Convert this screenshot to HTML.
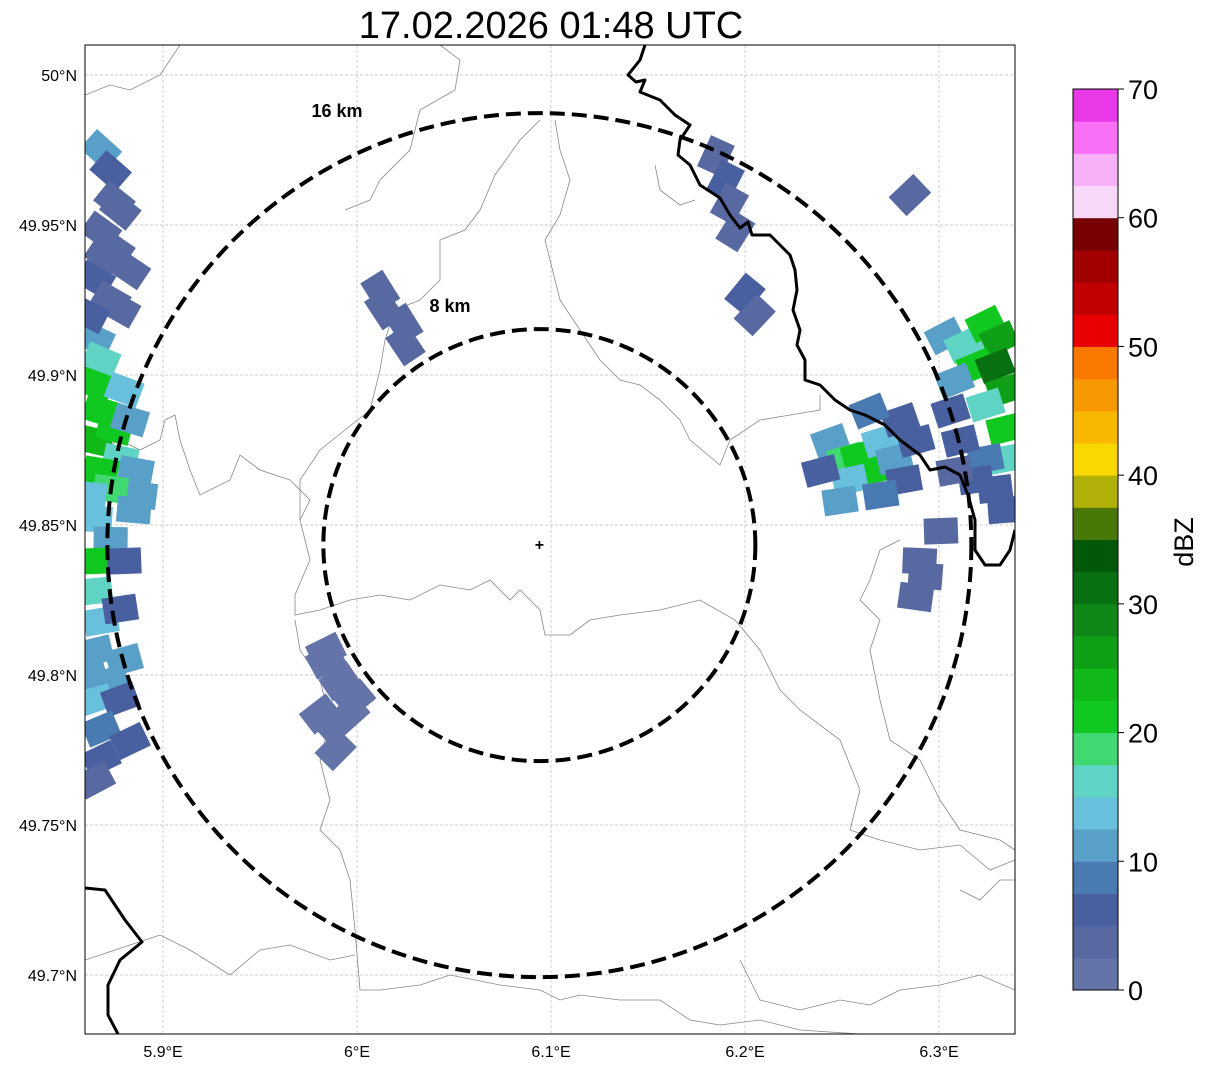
<!DOCTYPE html>
<html><head><meta charset="utf-8"><style>
html,body{margin:0;background:#fff;overflow:hidden;width:1207px;height:1069px}
svg{display:block}
svg text{font-family:"Liberation Sans","DejaVu Sans",sans-serif}
</style></head><body>
<svg id="chart" width="1207" height="1069" xmlns="http://www.w3.org/2000/svg">
<rect width="1207" height="1069" fill="#fff"/>
<text x="551" y="38" font-size="38" text-anchor="middle">17.02.2026 01:48 UTC</text>
<defs><clipPath id="mapclip"><rect x="85" y="45" width="930" height="989"/></clipPath></defs>
<g id="grid"></g>
<g clip-path="url(#mapclip)">
<g fill="none" stroke="#888" stroke-width="0.8">
<polyline points="85,95 110,85 130,90 160,75 180,45"/>
<polyline points="440,45 460,60 455,90 420,110 410,150 380,180 370,200 345,210"/>
<polyline points="540,120 520,140 495,175 480,210 465,230 440,240 440,280 420,300 395,310 385,340 380,370 370,410 345,430 320,450 300,480 300,520 310,560 295,595 295,615 320,610 350,600 380,595 410,600 440,585 470,590 490,580 510,600 520,590 540,610 545,635 570,635 590,620 620,615 660,610 700,600 735,620 760,650 780,690 800,710 840,740 860,790 850,830 880,840 920,850 960,845 990,870 1015,860"/>
<polyline points="555,120 560,150 570,180 560,215 545,240 555,280 560,300 580,330 600,360 620,380 640,385 660,400 680,420 690,440 720,465 730,440 760,420 790,415 820,410 820,395"/>
<polyline points="85,440 100,450 120,440 140,450 160,440 165,420 175,415 180,440 190,470 200,495 230,480 240,455 260,470 290,480 310,500 300,520"/>
<polyline points="295,620 300,650 320,680 330,720 320,760 330,800 320,830 340,850 350,880 355,930 360,990 380,990 420,985 450,975 500,985 540,990 560,1000 580,995 620,1000 660,1000 690,1020 720,1025 760,1020 800,1030 860,1034"/>
<polyline points="85,960 130,945 160,935 190,950 230,975 260,950 290,945 330,960 355,955"/>
<polyline points="740,960 760,1000 800,1010 840,1000 870,1005 900,990 940,985 980,975 1015,990"/>
<polyline points="900,540 880,550 870,580 860,600 880,620 870,650 880,700 890,740 920,760 940,800 960,830 1000,840 1015,850"/>
<polyline points="960,890 980,900 1000,880 1015,880"/>
<polyline points="655,165 660,190 680,205 695,200"/>
</g>
<g id="echoes"></g>
<g fill="none" stroke="#000" stroke-width="3" stroke-linejoin="round">
<polyline points="645,45 640,60 628,75 636,82 645,80 640,92 660,100 675,115 690,125 680,140 678,155 690,165 700,185 720,198 730,215 740,228 748,222 752,235 770,235 780,245 790,255 795,270 797,290 793,310 800,330 797,345 805,360 805,380 820,385 835,400 850,410 865,415 885,425 900,440 920,455 930,470 945,467 960,475 968,495 975,520 975,550 985,565 1000,565 1010,550 1015,530"/>
<polyline points="85,888 105,890 125,920 142,942 120,960 108,985 108,1015 118,1034"/>
</g>
<g id="rings"></g>
</g>
<rect x="85" y="45" width="930" height="989" fill="none" stroke="#000" stroke-width="1"/>
<g id="axes"></g>
<g id="cbar"></g>
<text transform="translate(1193,542) rotate(-90)" font-size="27" text-anchor="middle">dBZ</text>
</svg>
<script>
const lonTicks=[5.9,6.0,6.1,6.2,6.3];
const lonLabels=["5.9°E","6°E","6.1°E","6.2°E","6.3°E"];
const latTicks=[50.0,49.95,49.9,49.85,49.8,49.75,49.7];
const latLabels=["50°N","49.95°N","49.9°N","49.85°N","49.8°N","49.75°N","49.7°N"];
const cbarTicks=[0,10,20,30,40,50,60,70];
const cbarColors=["#6474a8","#5868a0","#4860a0","#4a7ab2","#58a0c8","#68c0dc","#60d4c4","#40d870","#10c820","#10b818","#10a018","#108818","#087010","#005808","#487808","#b0b008","#f8d800","#f8b800","#f89800","#f87800","#e80000","#c00000","#a00000","#780000","#f8d8f8","#f8b0f8","#f870f8","#e838e8"];
const centerLon=6.0940, centerLat=49.8433;
const ringKm=[8,16];
const ringLabels=["8 km","16 km"];
const cellLon=[5.868,5.873,5.875,5.868,5.875,5.865,5.873,5.878,5.865,5.868,5.865,5.868,5.865,5.875,5.878,5.886,5.883,5.888,5.868,5.873,5.865,5.873,5.865,5.880,5.865,5.868,5.878,5.865,5.873,5.865,5.878,5.868,5.883,5.868,5.865,5.878,5.883,5.870,5.880,5.885,5.862,5.862,5.862,5.880,
6.012,6.014,6.024,6.025,
5.984,5.991,5.999,5.981,5.989,5.989,5.996,5.984,
6.185,6.190,6.192,6.195,6.200,6.205,6.285,
6.244,6.252,6.259,6.264,6.254,6.270,6.280,6.277,6.282,6.249,6.239,6.264,6.288,6.270,
6.303,6.313,6.324,6.331,6.319,6.329,6.334,6.308,6.306,6.324,6.334,6.334,6.324,6.311,6.319,6.329,6.334,6.308,6.301,6.290,6.293,6.288];
const cellLat=[49.975,49.968,49.958,49.948,49.942,49.932,49.925,49.922,49.912,49.905,49.897,49.888,49.878,49.882,49.872,49.868,49.885,49.860,49.868,49.862,49.852,49.845,49.838,49.838,49.828,49.818,49.822,49.808,49.798,49.792,49.792,49.782,49.778,49.772,49.765,49.955,49.935,49.940,49.895,49.855,49.920,49.860,49.800,49.805,
49.928,49.922,49.917,49.910,
49.805,49.798,49.792,49.787,49.783,49.775,49.787,49.808,
49.973,49.965,49.957,49.948,49.927,49.920,49.960,
49.878,49.872,49.873,49.868,49.865,49.878,49.885,49.872,49.865,49.858,49.868,49.888,49.878,49.860,
49.913,49.910,49.917,49.912,49.903,49.903,49.895,49.898,49.888,49.890,49.882,49.872,49.872,49.878,49.865,49.862,49.855,49.868,49.848,49.838,49.833,49.826];
const cellDbz=[12,5,3,3,3,5,3,3,12,17,20,22,24,20,15,12,12,12,20,18,14,10,20,7,17,13,5,12,10,13,7,9,5,5,3,3,3,3,14,12,5,14,12,10,
3,3,3,3,
1,1,1,1,1,1,1,1,
4,5,4,4,5,3,3,
10,18,22,20,13,14,5,10,5,12,5,8,5,8,
12,17,20,25,22,30,27,12,6,17,22,15,8,5,5,7,5,4,3,3,4,3];

const NS="http://www.w3.org/2000/svg";
const X=lon=>163+1940*(lon-5.9);
const Y=lat=>75+3000*(50-lat);
function mk(tag,attrs,parent){const e=document.createElementNS(NS,tag);for(const k in attrs)e.setAttribute(k,attrs[k]);parent.appendChild(e);return e;}
const grid=document.getElementById('grid'),axes=document.getElementById('axes');
lonTicks.forEach((v,i)=>{const x=X(v);
 const l=mk('line',{x1:x,x2:x,y1:45,y2:1034,stroke:'#bbb','stroke-width':0.7,'stroke-dasharray':'3,2'},grid);
 
 const t=mk('text',{x:x,y:1057,'font-size':16,'text-anchor':'middle'},axes);t.textContent=lonLabels[i];
 });
latTicks.forEach((v,i)=>{const y=Y(v);
 const l=mk('line',{x1:85,x2:1015,y1:y,y2:y,stroke:'#bbb','stroke-width':0.7,'stroke-dasharray':'3,2'},grid);
 
 const t=mk('text',{x:77,y:y+6,'font-size':16,'text-anchor':'end'},axes);t.textContent=latLabels[i];
 });
const echoes=document.getElementById('echoes');
const cx=X(centerLon),cy=Y(centerLat);
for(let i=0;i<cellLon.length;i++){
 const x=X(cellLon[i]),y=Y(cellLat[i]);
 const ang=Math.atan2(y-cy,x-cx)*180/Math.PI;
 const ci=Math.min(cbarColors.length-1,Math.floor(cellDbz[i]/2.5));
 const r=mk('rect',{x:x-17,y:y-13,width:34,height:26,fill:cbarColors[ci],transform:`rotate(${ang} ${x} ${y})`},echoes);
 
}
const rings=document.getElementById('rings');
const pxPerKm=27.0;
const labelPos=[[450,312],[337,117]];
ringKm.forEach((km,i)=>{
 const e=mk('ellipse',{cx:cx,cy:cy,rx:km*pxPerKm,ry:km*pxPerKm,fill:'none',stroke:'#000','stroke-width':4,'stroke-dasharray':'15,7'},rings);
 
 const t=mk('text',{x:labelPos[i][0],y:labelPos[i][1],'font-size':18,'font-weight':'bold','text-anchor':'middle'},rings);
 t.textContent=ringLabels[i];
});
const p=mk('text',{x:cx,y:cy+5,'font-size':16,'font-weight':'bold','text-anchor':'middle'},rings);p.textContent='+';

const cb=document.getElementById('cbar');
const cbTop=89,cbBot=990,cbX=1073,cbW=45;
const C=v=>cbBot-(cbBot-cbTop)*v/70;
cbarColors.forEach((c,i)=>{const y1=C((i+1)*2.5),y2=C(i*2.5);
 const r=mk('rect',{x:cbX,y:y1,width:cbW,height:y2-y1+0.5,fill:c},cb);
 });
mk('rect',{x:cbX,y:cbTop,width:cbW,height:cbBot-cbTop,fill:'none',stroke:'#000','stroke-width':1},cb);
cbarTicks.forEach(v=>{const y=C(v);
 mk('line',{x1:cbX+cbW,x2:cbX+cbW+6,y1:y,y2:y,stroke:'#000'},cb);
 const t=mk('text',{x:cbX+cbW+10,y:y+10,'font-size':27},cb);t.textContent=v;
 });
</script>
</body></html>
